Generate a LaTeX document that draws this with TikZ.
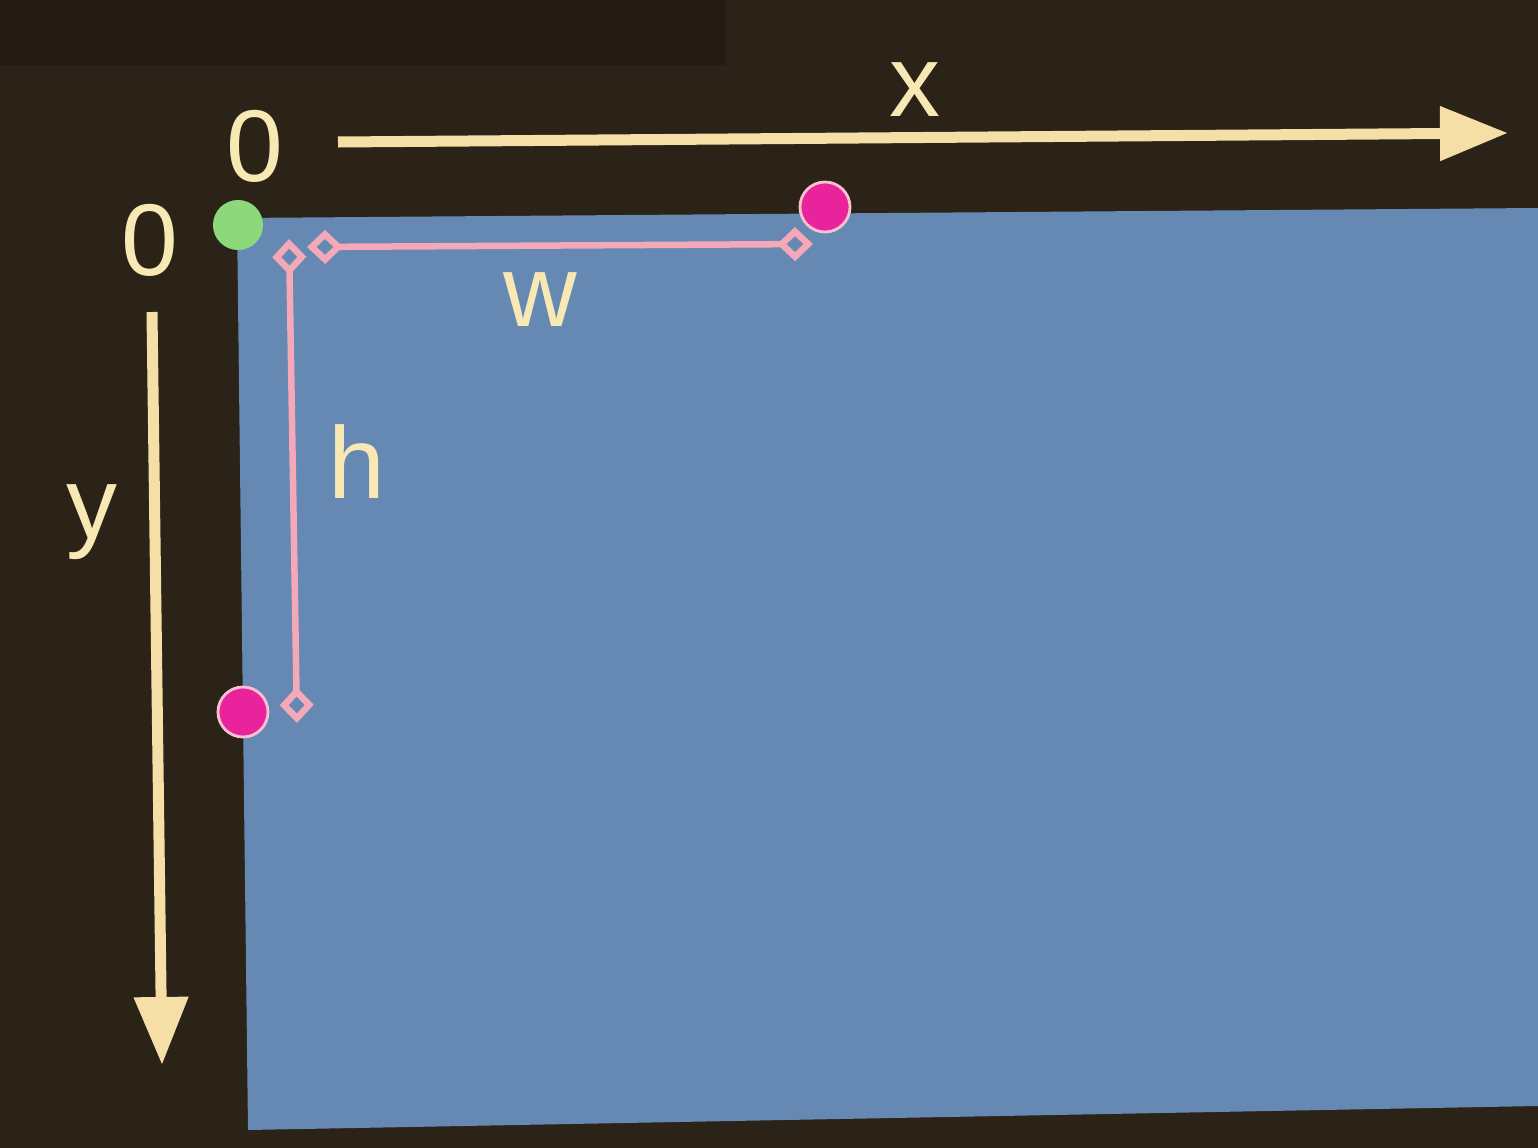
\documentclass[tikz,border=0pt]{standalone}
\usepackage{fontspec}
\setmainfont{Liberation Sans}
\usetikzlibrary{arrows.meta}

\definecolor{screenbg}{HTML}{2B2218}
\definecolor{screenband}{HTML}{231B12}
\definecolor{canvasblue}{HTML}{6689B4}
\definecolor{axiscream}{HTML}{F6DFA6}
\definecolor{textcream}{HTML}{F7E8B4}
\definecolor{spanpink}{HTML}{F4A8B8}
\definecolor{origingreen}{HTML}{8ED87C}
\definecolor{cornermagenta}{HTML}{E8239C}

\begin{document}
\begin{tikzpicture}[x=0.01cm, y=-0.01cm, font=\fontsize{29}{32}\selectfont,
    axisline/.style={draw=axiscream, line width=0.11cm, -{Triangle[length=0.68cm, width=0.52cm]}},
    spanline/.style={draw=spanpink, line width=0.065cm, {Diamond[open, length=0.36cm, width=0.34cm]}-{Diamond[open, length=0.36cm, width=0.34cm]}},
    axislabel/.style={text=textcream, inner sep=0pt},
    pointdot/.style={circle, minimum size=0.5cm, inner sep=0pt}
]
\useasboundingbox (0,0) rectangle (1538,1148);
% screen and canvas
\fill[screenbg] (0,0) rectangle (1538,1148);
\fill[screenband] (0,0) rectangle (725,65);
\fill[canvasblue] (237,218) -- (1538,208) -- (1538,1106) -- (248,1130) -- cycle;

% axes
\coordinate (xstart) at (338,142);
\coordinate (xend) at (1508,133);
\coordinate (ystart) at (152,312);
\coordinate (yend) at (162,1065);
\draw[axisline] (xstart) -- (xend);
\draw[axisline] (ystart) -- (yend);

\node[axislabel] (xlab) at (915,90) {x};
\node[axislabel] (ylab) at (92,522) {y};
\node[axislabel] (zerotop) at (255,146) {0};
\node[axislabel] (zeroleft) at (150,240) {0};

% corner points
\node[pointdot, fill=origingreen] (origin) at (238,225) {};
\node[pointdot, fill=cornermagenta, draw=spanpink!70, line width=0.8pt] (topright) at (825,207) {};
\node[pointdot, fill=cornermagenta, draw=spanpink!70, line width=0.8pt] (bottomleft) at (243,712) {};

% width and height
\coordinate (wleft) at (307,247);
\coordinate (wright) at (813,244);
\coordinate (htop) at (289,239);
\coordinate (hbottom) at (297,723);
\draw[spanline] (wleft) -- (wright);
\draw[spanline] (htop) -- (hbottom);

\node[axislabel] (wlab) at (540,300) {w};
\node[axislabel] (hlab) at (357,462) {h};
\end{tikzpicture}
\end{document}
